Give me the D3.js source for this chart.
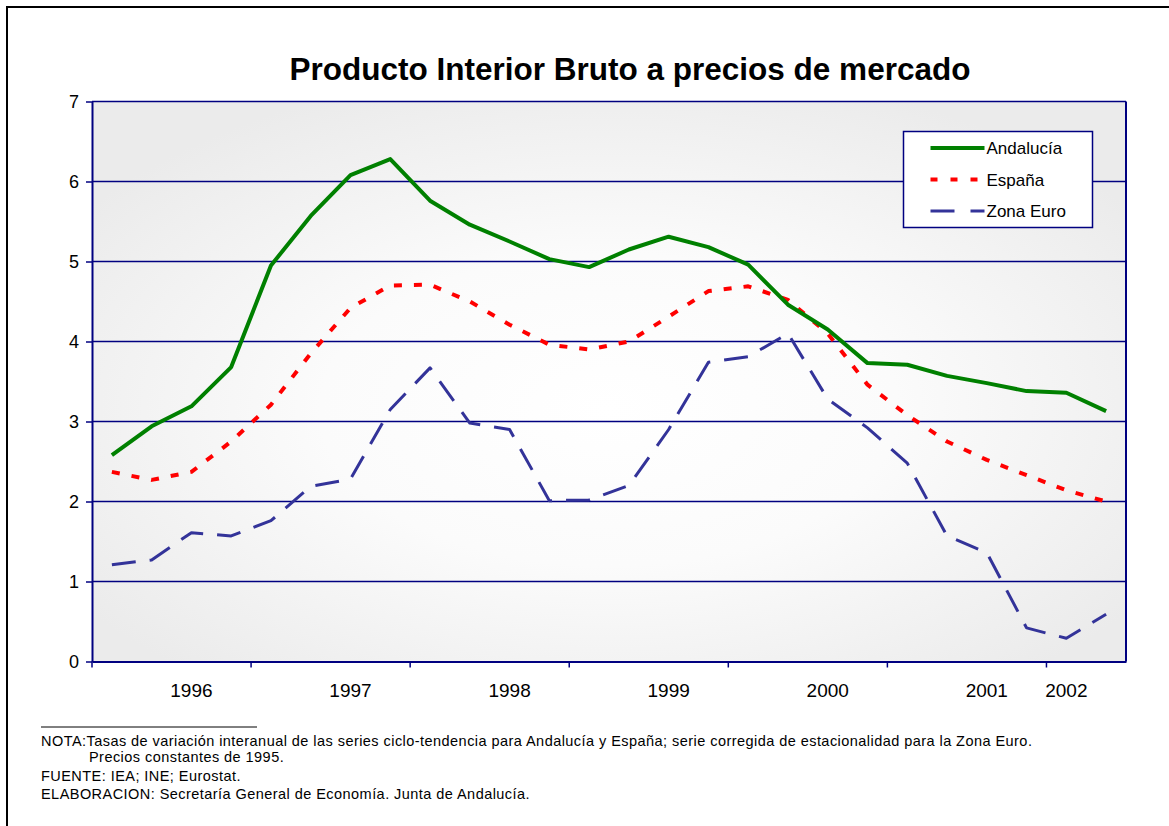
<!DOCTYPE html>
<html>
<head>
  <meta charset="utf-8">
  <script src="https://d3js.org/d3.v7.min.js"></script>
  <style>
    body { margin: 0; background: white; }
    text { font-family: "Liberation Sans", Arial, sans-serif; }
  </style>
</head>
<body>
<script type="text/javascript">
  "use strict";

  /* quarterly categories, from 1995 III to 2001 IV */
  var categories = ["1995-III", "1995-IV", "1996-I", "1996-II", "1996-III", "1996-IV",
                    "1997-I", "1997-II", "1997-III", "1997-IV", "1998-I", "1998-II",
                    "1998-III", "1998-IV", "1999-I", "1999-II", "1999-III", "1999-IV",
                    "2000-I", "2000-II", "2000-III", "2000-IV", "2001-I", "2001-II",
                    "2001-III", "2001-IV"];

  var andalucia = [2.58, 2.94, 3.19, 3.68, 4.95, 5.57, 6.08, 6.28, 5.76, 5.46, 5.25, 5.03, 4.93,
                   5.15, 5.31, 5.18, 4.96, 4.46, 4.15, 3.73, 3.71, 3.57, 3.48, 3.38, 3.36, 3.13];
  var espana = [2.37, 2.27, 2.37, 2.75, 3.21, 3.85, 4.42, 4.70, 4.71, 4.50, 4.21, 3.96, 3.90,
                4.00, 4.31, 4.63, 4.69, 4.52, 4.10, 3.46, 3.08, 2.75, 2.52, 2.33, 2.14, 2.00];
  var zonaEuro = [1.21, 1.27, 1.61, 1.57, 1.76, 2.19, 2.28, 3.15, 3.67, 2.98, 2.90, 2.01, 2.02,
                  2.20, 2.90, 3.74, 3.81, 4.10, 3.28, 2.92, 2.48, 1.57, 1.36, 0.42, 0.29, 0.59];

  /* year labels sit on these categories */
  var labelCategories = ["1996-I", "1997-I", "1998-I", "1999-I", "2000-I", "2001-I", "2001-III"];
  var labelTexts = ["1996", "1997", "1998", "1999", "2000", "2001", "2002"];
  /* tick marks every fourth category */
  var tickCategories = ["1995-III", "1996-III", "1997-III", "1998-III", "1999-III", "2000-III", "2001-III"];

  var yTicks = [0, 1, 2, 3, 4, 5, 6, 7];

  var series = [
    { name: "Andalucía", values: andalucia, color: "#008000", width: 4, dash: null },
    { name: "España", values: espana, color: "#ff0000", width: 4, dash: "8,12" },
    { name: "Zona Euro", values: zonaEuro, color: "#333399", width: 3, dash: "24,14" }
  ];

  var notes = [
    "NOTA:Tasas de variación interanual de las series ciclo-tendencia para Andalucía y España; serie corregida de estacionalidad para la Zona Euro.",
    "Precios constantes de 1995.",
    "FUENTE: IEA; INE; Eurostat.",
    "ELABORACION: Secretaría General de Economía. Junta de Andalucía."
  ];

  var W = 1169, H = 826;
  var plot = { left: 92, top: 101.5, right: 1126, bottom: 661.5 };
  var navy = "#000080";

  var svg = d3.select("body")
    .append("svg")
      .attr("width", W)
      .attr("height", H);

  /* outer frame (right and bottom edges fall outside the picture) */
  svg.append("rect")
    .attr("x", 7).attr("y", 7)
    .attr("width", 1200).attr("height", 900)
    .attr("fill", "white")
    .attr("stroke", "black")
    .attr("stroke-width", 2);

  var defs = svg.append("defs");
  var grad = defs.append("radialGradient")
    .attr("id", "bg")
    .attr("cx", "50%").attr("cy", "55%").attr("r", "62%");
  grad.append("stop").attr("offset", "0%").attr("stop-color", "#ffffff");
  grad.append("stop").attr("offset", "45%").attr("stop-color", "#fbfbfb");
  grad.append("stop").attr("offset", "100%").attr("stop-color", "#ebebeb");

  var x = d3.scaleBand()
    .domain(categories)
    .range([plot.left, plot.right]);

  var y = d3.scaleLinear()
    .domain([0, 7])
    .range([plot.bottom, plot.top]);

  /* plot area */
  svg.append("rect")
    .attr("x", plot.left).attr("y", plot.top)
    .attr("width", plot.right - plot.left)
    .attr("height", plot.bottom - plot.top)
    .attr("fill", "url(#bg)");

  /* gridlines */
  svg.append("g")
    .selectAll("line")
    .data(yTicks.slice(1))
    .enter()
    .append("line")
      .attr("x1", plot.left).attr("x2", plot.right)
      .attr("y1", function(d) { return y(d); })
      .attr("y2", function(d) { return y(d); })
      .attr("stroke", navy)
      .attr("stroke-width", 1.5);

  /* right border of plot */
  svg.append("line")
    .attr("x1", plot.right).attr("x2", plot.right)
    .attr("y1", plot.top).attr("y2", plot.bottom)
    .attr("stroke", navy).attr("stroke-width", 2);

  /* y axis */
  var yAxis = svg.append("g")
    .attr("transform", "translate(" + plot.left + ",0)")
    .call(d3.axisLeft(y).tickValues(yTicks).tickFormat(d3.format("d"))
      .tickSize(6).tickSizeOuter(0).tickPadding(7));
  yAxis.select(".domain").attr("stroke", navy).attr("stroke-width", 2);
  yAxis.selectAll(".tick line").attr("stroke", navy).attr("stroke-width", 1.5);
  yAxis.selectAll(".tick text")
    .attr("font-size", "18px")
    .attr("fill", "black")
    .style("font-family", "'Liberation Sans', Arial, sans-serif");

  /* x axis: labels on chosen categories, ticks on band edges */
  var xAxis = svg.append("g")
    .attr("transform", "translate(0," + plot.bottom + ")")
    .call(d3.axisBottom(x).tickValues(labelCategories).tickSize(0).tickSizeOuter(0).tickPadding(22)
      .tickFormat(function(d) { return labelTexts[labelCategories.indexOf(d)]; }));
  xAxis.select(".domain").attr("stroke", navy).attr("stroke-width", 2);
  xAxis.selectAll(".tick text")
    .attr("font-size", "19px")
    .attr("fill", "black")
    .style("font-family", "'Liberation Sans', Arial, sans-serif");

  svg.append("g")
    .selectAll("line")
    .data(tickCategories)
    .enter()
    .append("line")
      .attr("x1", function(d) { return x(d); })
      .attr("x2", function(d) { return x(d); })
      .attr("y1", plot.bottom).attr("y2", plot.bottom + 6)
      .attr("stroke", navy).attr("stroke-width", 1.5);

  /* lines */
  var line = d3.line()
    .x(function(d, i) { return x(categories[i]) + x.bandwidth() / 2; })
    .y(function(d) { return y(d); });

  svg.append("g")
    .selectAll("path")
    .data(series.slice().reverse())
    .enter()
    .append("path")
      .attr("d", function(d) { return line(d.values); })
      .attr("fill", "none")
      .attr("stroke", function(d) { return d.color; })
      .attr("stroke-width", function(d) { return d.width; })
      .attr("stroke-dasharray", function(d) { return d.dash; })
      .attr("stroke-linejoin", "round");

  /* legend */
  var legend = svg.append("g").attr("transform", "translate(903.5,131.5)");
  legend.append("rect")
    .attr("width", 189).attr("height", 96)
    .attr("fill", "white")
    .attr("stroke", navy).attr("stroke-width", 1.5);

  var item = legend.selectAll("g.item")
    .data(series)
    .enter()
    .append("g")
      .attr("class", "item")
      .attr("transform", function(d, i) { return "translate(0," + (16.5 + i * 31.5) + ")"; });

  item.append("line")
    .attr("x1", 27).attr("x2", 81)
    .attr("stroke", function(d) { return d.color; })
    .attr("stroke-width", function(d) { return d.width; })
    .attr("stroke-dasharray", function(d) { return d.dash ? (d.name === "España" ? "7,13" : "24,16") : null; });

  item.append("text")
    .attr("x", 83)
    .attr("dy", "0.36em")
    .attr("font-size", "17px")
    .text(function(d) { return d.name; });

  /* title */
  svg.append("text")
    .attr("x", 630).attr("y", 80)
    .attr("text-anchor", "middle")
    .attr("font-size", "31.5px")
    .attr("font-weight", "bold")
    .text("Producto Interior Bruto a precios de mercado");

  /* notes */
  svg.append("line")
    .attr("x1", 41).attr("x2", 257)
    .attr("y1", 727).attr("y2", 727)
    .attr("stroke", "black").attr("stroke-width", 1);

  svg.append("g")
    .selectAll("text")
    .data(notes)
    .enter()
    .append("text")
      .attr("x", function(d, i) { return i === 1 ? 89 : 41; })
      .attr("y", function(d, i) { return [746, 762, 781, 799][i]; })
      .attr("font-size", "14.5px")
      .attr("letter-spacing", "0.45px")
      .text(function(d) { return d; });
</script>
</body>
</html>
